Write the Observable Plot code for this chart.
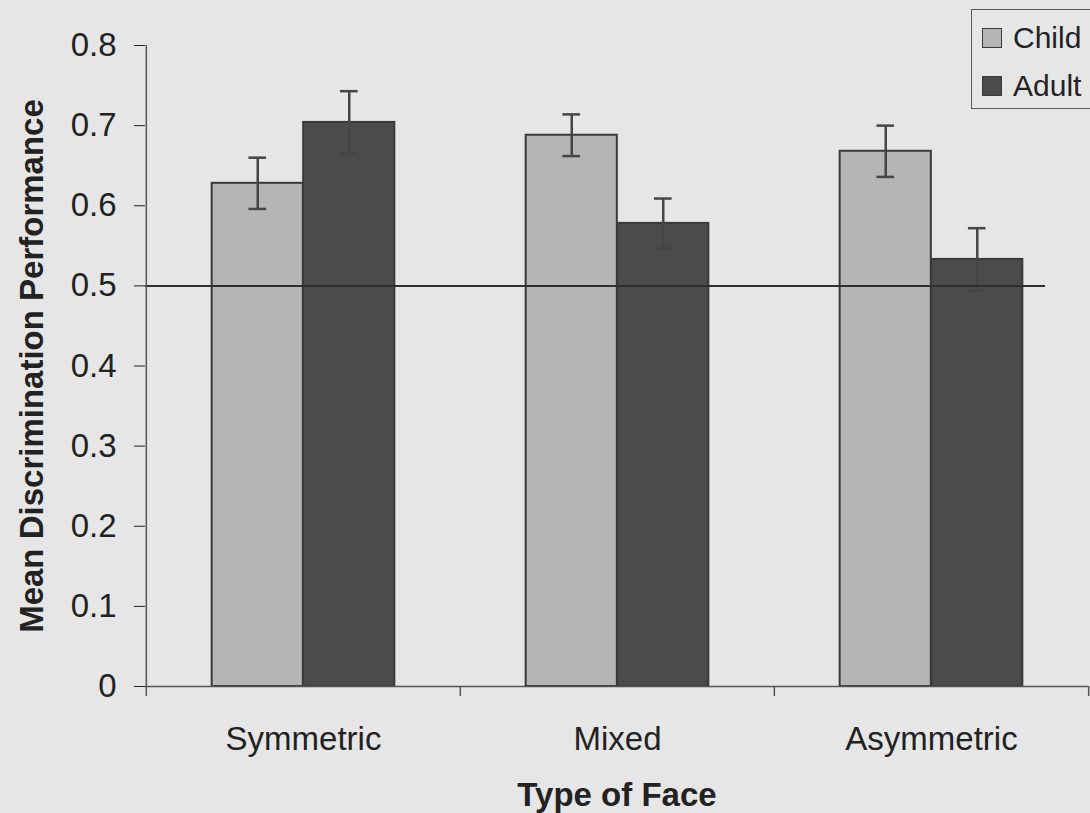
<!DOCTYPE html>
<html>
<head>
<meta charset="utf-8">
<script src="https://cdn.jsdelivr.net/npm/d3@7"></script>
<script src="https://cdn.jsdelivr.net/npm/@observablehq/plot@0.6"></script>
<style>
  html, body { margin: 0; padding: 0; background: #e6e6e6; overflow: hidden; }
  #wrap { position: relative; width: 1090px; height: 813px; }
  #legend {
    position: absolute; left: 971px; top: 9px; width: 130px; height: 100px;
    box-sizing: border-box; border: 1.5px solid #5a5a5a;
    font-family: 'Liberation Sans', Arial, sans-serif; font-size: 30px; color: #222;
  }
  #legend .row { position: absolute; left: 10px; display: flex; align-items: center; height: 30px; }
  #legend .sw { width: 20px; height: 20px; box-sizing: border-box; border: 1.5px solid #3a3a3a; margin-right: 11px; }
</style>
</head>
<body>
<div id="wrap"></div>
<script>
// ---- data ----
const faces = ["Symmetric", "Mixed", "Asymmetric"];
const groups = ["Child", "Adult"];
const childMeans = [0.628, 0.688, 0.668];
const adultMeans = [0.704, 0.578, 0.533];
const childErr = [0.032, 0.026, 0.032];
const adultErr = [0.039, 0.031, 0.039];
const chance = 0.5;
const yTicks = [0, 0.1, 0.2, 0.3, 0.4, 0.5, 0.6, 0.7, 0.8];
const groupColors = ["#b5b5b5", "#4b4b4b"];
const xTitle = "Type of Face";
const yTitle = "Mean Discrimination Performance";

// ---- layout ----
const W = 1090, H = 813, mL = 145, mR = 2, mT = 45, mB = 127;
const step = (W - mL - mR) / faces.length;
const barW = 91.5;
const capW = 18;
const ink = "#3a3a3a";

const table = faces.flatMap((f, i) => [
  {face: f, group: groups[0], mean: childMeans[i], err: childErr[i]},
  {face: f, group: groups[1], mean: adultMeans[i], err: adultErr[i]}
]);
const child = table.filter(d => d.group === groups[0]);
const adult = table.filter(d => d.group === groups[1]);

// child bar sits left of band centre, adult right
const half = step / 2;
const barOpts = (left) => left
  ? {insetLeft: half - barW, insetRight: half}
  : {insetLeft: half, insetRight: half - barW};
const capOpts = (left) => {
  const c = left ? half - barW / 2 : half + barW / 2;
  return {insetLeft: c - capW / 2, insetRight: step - c - capW / 2};
};

function groupMarks(data, left) {
  const dx = left ? -barW / 2 : barW / 2;
  return [
    Plot.barY(data, {x: "face", y: "mean", fill: "group", stroke: ink, strokeWidth: 2, ...barOpts(left)}),
    Plot.ruleX(data, {x: "face", y1: d => d.mean - d.err, y2: d => d.mean + d.err, dx, stroke: "#454545", strokeWidth: 2.5}),
    Plot.tickY(data, {x: "face", y: d => d.mean - d.err, stroke: "#454545", strokeWidth: 2.5, ...capOpts(left)}),
    Plot.tickY(data, {x: "face", y: d => d.mean + d.err, stroke: "#454545", strokeWidth: 2.5, ...capOpts(left)})
  ];
}

const chart = Plot.plot({
  width: W, height: H,
  marginLeft: mL, marginRight: mR, marginTop: mT, marginBottom: mB,
  style: {background: "transparent", fontFamily: "'Liberation Sans', Arial, sans-serif", fontSize: "33px", color: "#222"},
  x: {domain: faces, padding: 0, label: null, tickSize: 0, tickPadding: 40},
  y: {domain: [0, 0.8], ticks: yTicks, tickSize: 11, tickPadding: 18, label: null,
      tickFormat: d => d === 0 ? "0" : d3.format(".1f")(d)},
  color: {domain: groups, range: groupColors},
  marks: [
    ...groupMarks(child, true),
    ...groupMarks(adult, false),
    Plot.ruleY([chance], {stroke: "#2f2f2f", strokeWidth: 2, insetRight: 43}),
    // axis lines
    Plot.ruleY([0], {stroke: "#555", strokeWidth: 1.5}),
    Plot.ruleX([faces[0]], {x: d => d, y1: 0, y2: 0.8, dx: -half, stroke: "#555", strokeWidth: 1.5}),
    // category boundary ticks
    Plot.ruleX(faces, {x: d => d, y1: 0, y2: 0, insetBottom: -10, dx: -half, stroke: "#555", strokeWidth: 1.5}),
    Plot.ruleX([faces[faces.length - 1]], {x: d => d, y1: 0, y2: 0, insetBottom: -10, dx: half, stroke: "#555", strokeWidth: 1.5}),
    // axis titles
    Plot.text([xTitle], {frameAnchor: "bottom", lineAnchor: "top", textAnchor: "middle", dy: 96, text: d => d, fontSize: 33, fontWeight: "bold", fill: "#222"}),
    Plot.text([yTitle], {frameAnchor: "left", rotate: -90, textAnchor: "middle", lineAnchor: "middle", dx: -113, text: d => d, fontSize: 33, fontWeight: "bold", fill: "#222"})
  ]
});

const wrap = document.getElementById("wrap");
wrap.appendChild(chart);

// legend
const legend = document.createElement("div");
legend.id = "legend";
groups.forEach((g, i) => {
  const row = document.createElement("div");
  row.className = "row";
  row.style.top = (13 + i * 48) + "px";
  const sw = document.createElement("div");
  sw.className = "sw";
  sw.style.background = groupColors[i];
  const label = document.createElement("span");
  label.textContent = g;
  row.appendChild(sw);
  row.appendChild(label);
  legend.appendChild(row);
});
wrap.appendChild(legend);
</script>
</body>
</html>
